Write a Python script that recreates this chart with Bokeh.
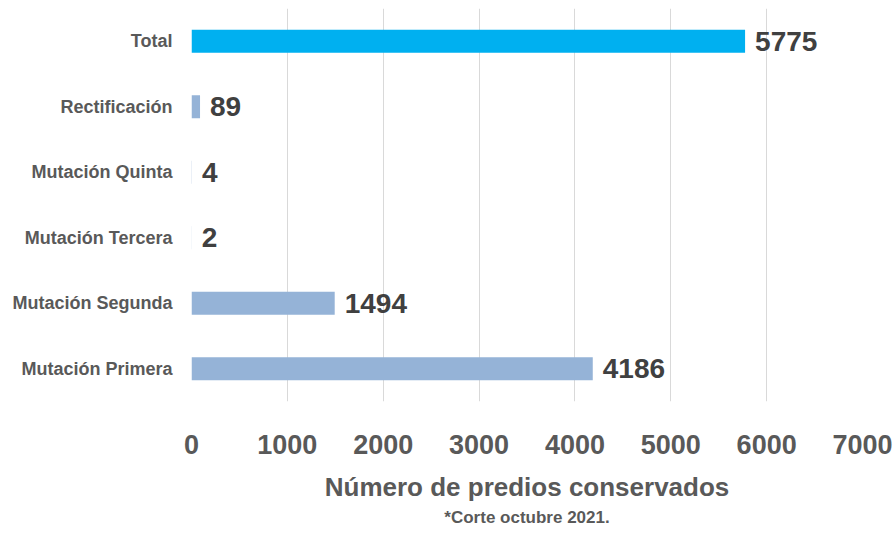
from bokeh.plotting import figure
from bokeh.models import ColumnDataSource, Title
from bokeh.core.properties import value
from bokeh.embed import file_html
from bokeh.resources import INLINE

categories = ["Mutación Primera", "Mutación Segunda", "Mutación Tercera",
              "Mutación Quinta", "Rectificación", "Total"]
counts = [4186, 1494, 2, 4, 89, 5775]
bar_colors = ["#95B3D7", "#95B3D7", "#95B3D7", "#95B3D7", "#95B3D7", "#00B0F0"]
x_ticks = [0, 1000, 2000, 3000, 4000, 5000, 6000, 7000]

FONT = "Liberation Sans"

src = ColumnDataSource(dict(cat=categories, val=counts, color=bar_colors,
                            label=[str(v) for v in counts]))

p = figure(width=896, height=533, y_range=categories, x_range=(0, 7000),
           output_backend="svg", toolbar_location=None,
           min_border_left=191, min_border_right=34, min_border_top=8,
           min_border_bottom=132)

p.hbar(y="cat", right="val", left=0, height=0.35, color="color",
       line_color=None, source=src)
p.text(x="val", y="cat", text="label", source=src, x_offset=10,
       text_baseline="middle", text_align="left",
       text_font=value(FONT), text_font_style="bold",
       text_font_size="28px", text_color="#404040")

p.outline_line_color = None
p.ygrid.grid_line_color = None
p.xgrid.grid_line_color = "#D9D9D9"
p.xgrid.grid_line_width = 1
p.xaxis.ticker = x_ticks

for ax in (p.xaxis[0], p.yaxis[0]):
    ax.axis_line_color = None
    ax.major_tick_line_color = None
    ax.minor_tick_line_color = None
    ax.major_label_text_font = FONT
    ax.major_label_text_font_style = "bold"
    ax.major_label_text_color = "#595959"

p.xaxis.major_label_text_font_size = "27px"
p.xaxis.major_label_standoff = 27
p.xaxis.axis_label = "Número de predios conservados"
p.xaxis.axis_label_text_font = FONT
p.xaxis.axis_label_text_font_style = "bold"
p.xaxis.axis_label_text_font_size = "26px"
p.xaxis.axis_label_text_color = "#595959"
p.xaxis.axis_label_standoff = 15

p.yaxis.major_label_text_font_size = "18px"
p.yaxis.major_label_standoff = 13

sub = Title(text="*Corte octubre 2021.", align="center", standoff=3,
            text_font=FONT, text_font_style="bold",
            text_font_size="17px", text_color="#595959")
p.add_layout(sub, "below")

open("out.html", "w").write(file_html(p, INLINE))
